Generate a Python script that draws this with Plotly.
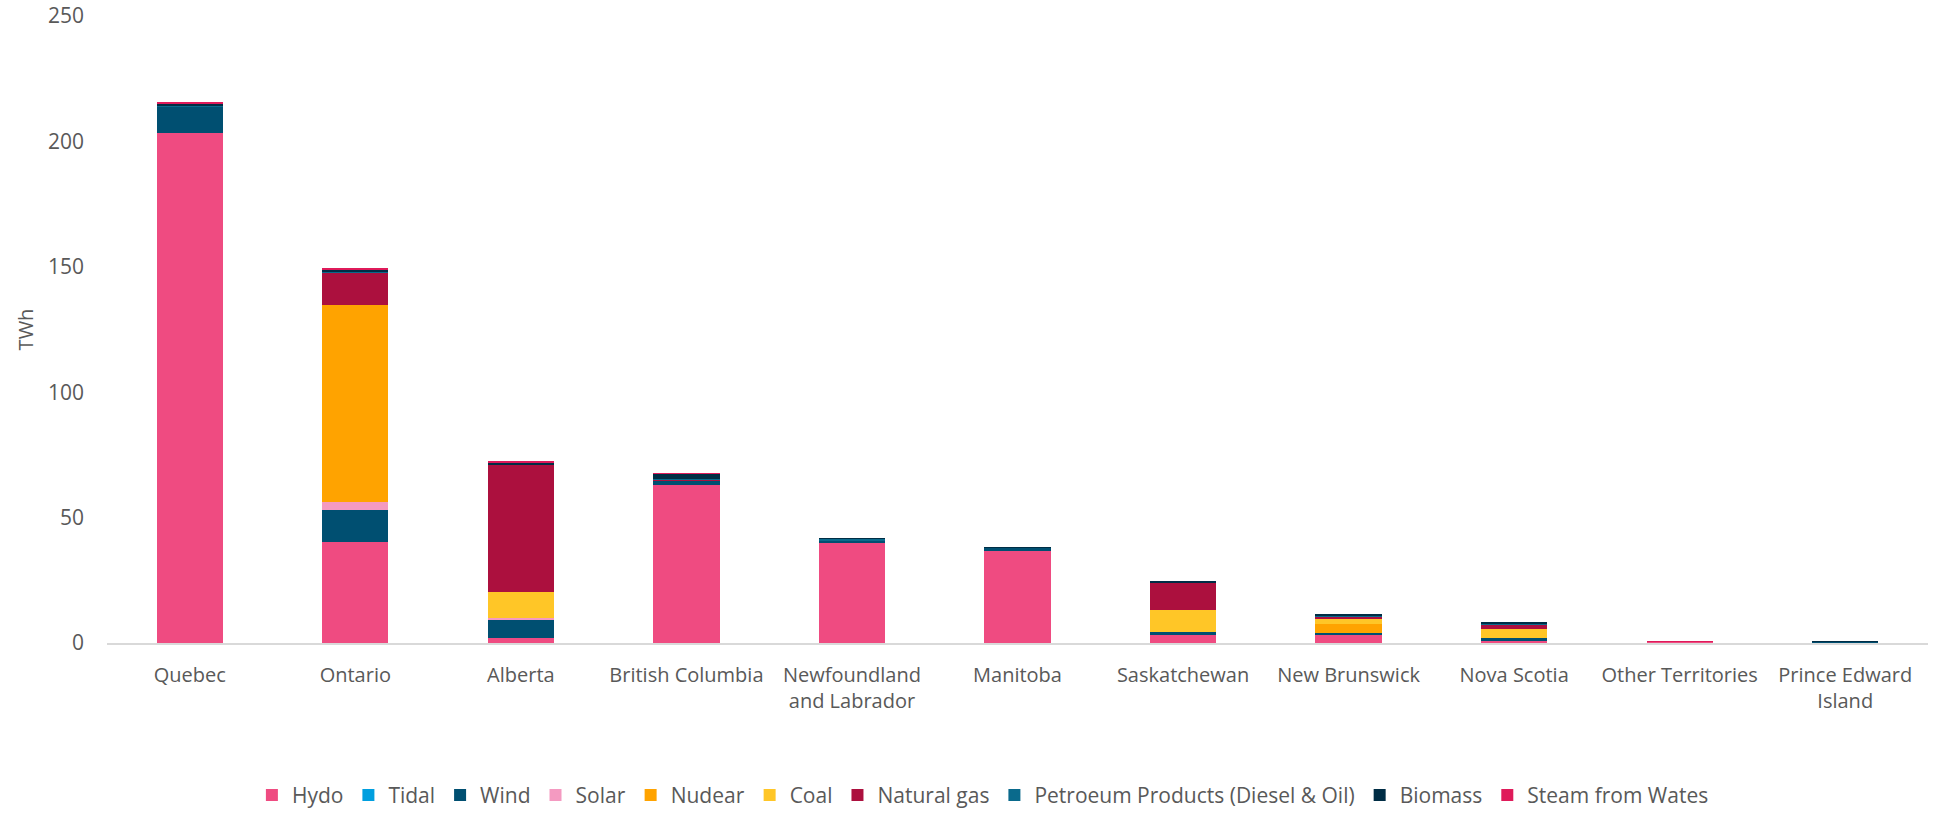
import plotly.graph_objects as go

provinces = ["Quebec", "Ontario", "Alberta", "British Columbia", "Newfoundland<br>and Labrador",
             "Manitoba", "Saskatchewan", "New Brunswick", "Nova Scotia", "Other Territories",
             "Prince Edward<br>Island"]

hydro     = [203.3, 40.1, 1.9, 63.1, 40.1, 36.8, 3.3, 3.3, 0.9, 0.5, 0.0]
tidal     = [0.0,   0.0,  0.0, 0.0,  0.0,  0.0,  0.0, 0.0, 0.05, 0.0, 0.0]
wind      = [10.6,  13.0, 7.2, 1.3,  0.6,  1.2,  1.2, 0.8, 1.1, 0.05, 0.6]
solar     = [0.0,   3.1,  1.0, 0.0,  0.0,  0.0,  0.05, 0.0, 0.0, 0.0, 0.0]
nuclear   = [0.0,   78.7, 0.0, 0.0,  0.0,  0.0,  0.0, 3.3, 0.0, 0.0, 0.0]
coal      = [0.0,   0.0,  10.1, 0.0, 0.0,  0.0,  8.8, 2.3, 3.7, 0.0, 0.0]
nat_gas   = [0.1,   13.0, 50.8, 0.8, 0.0,  0.0,  10.6, 0.9, 1.6, 0.05, 0.0]
petroleum = [0.3,   0.1,  0.1, 0.2,  1.1,  0.05, 0.2, 0.5, 0.35, 0.05, 0.05]
biomass   = [0.8,   0.9,  0.7, 2.0,  0.05, 0.05, 0.3, 0.5, 0.35, 0.0, 0.05]
steam     = [0.3,   0.3,  0.5, 0.2,  0.0,  0.0,  0.0, 0.0, 0.0, 0.1, 0.0]

series = [
    ("Hydo", hydro, "#EF4B81"),
    ("Tidal", tidal, "#009FDF"),
    ("Wind", wind, "#004F71"),
    ("Solar", solar, "#F49AC1"),
    ("Nudear", nuclear, "#FFA300"),
    ("Coal", coal, "#FFC627"),
    ("Natural gas", nat_gas, "#AC103E"),
    ("Petroeum Products (Diesel & Oil)", petroleum, "#0A6A8C"),
    ("Biomass", biomass, "#002D45"),
    ("Steam from Wates", steam, "#DF1B5A"),
]

fig = go.Figure()
for name, vals, col in series:
    fig.add_trace(go.Bar(x=provinces, y=vals, name=name, marker=dict(color=col, line=dict(width=0))))

font_fam = "Open Sans, Liberation Sans, sans-serif"
grey = "#595959"
fig.update_layout(
    barmode="stack",
    bargap=0.6,
    width=1936, height=817,
    margin=dict(l=107, r=8, t=16, b=174, autoexpand=False),
    plot_bgcolor="white", paper_bgcolor="white",
    font=dict(family=font_fam, size=20, color=grey),
    xaxis=dict(showgrid=False, showline=True, linecolor="#D9D9D9", linewidth=1.5, automargin=False,
               tickfont=dict(size=20, color=grey), ticks="", ticklabelstandoff=13),
    yaxis=dict(range=[0, 250], dtick=50, showgrid=False, zeroline=False, showline=False, automargin=False,
               tickfont=dict(size=21, color=grey), ticklabelstandoff=22,
               title=dict(text="TWh", font=dict(size=20, color=grey), standoff=8)),
    legend=dict(orientation="h", x=0.481, xanchor="center", y=-0.243, yanchor="middle",
                font=dict(size=21, color=grey), traceorder="normal", itemwidth=30),
)

fig.write_html("out.html")
